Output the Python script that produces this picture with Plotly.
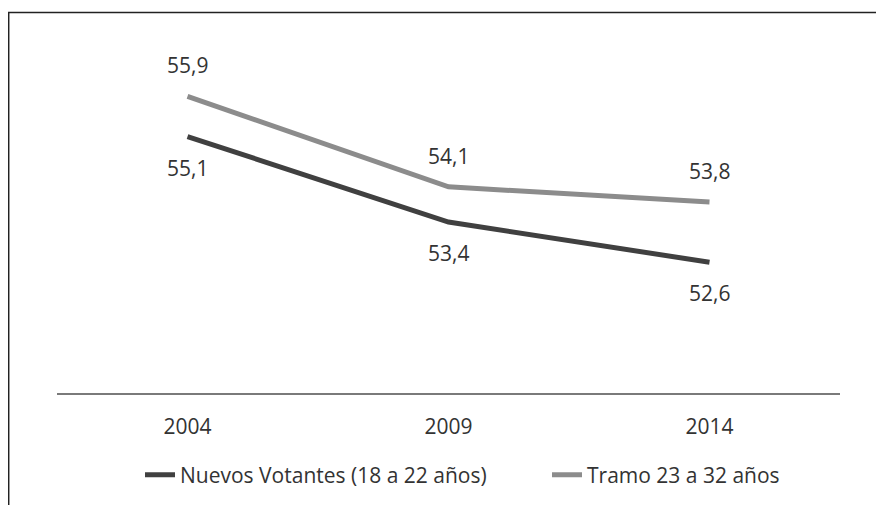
import plotly.graph_objects as go

years = ["2004", "2009", "2014"]
nuevos = [55.1, 53.4, 52.6]
tramo = [55.9, 54.1, 53.8]
name_nuevos = "Nuevos Votantes (18 a 22 años)"
name_tramo = "Tramo 23 a 32 años"

# page is drawn with an 8px body margin
OFF = 8
W, H = 884 - OFF, 505 - OFF
L, R = 57 - OFF, 884 - 840
T, B = 41 - OFF, 505 - 393
pw, ph = W - L - R, H - T - B

def px_x(p):
    return (p - OFF - L) / pw

def px_y(p):
    return (H - B - (p - OFF)) / ph

def cont_y(p):
    return (H - (p - OFF)) / H

FONT = "Open Sans"
TXT = "#333333"
FS = 21

fig = go.Figure()
fig.add_trace(go.Scatter(x=years, y=nuevos, mode="lines", name=name_nuevos,
                         line=dict(color="#404040", width=5), legend="legend"))
fig.add_trace(go.Scatter(x=years, y=tramo, mode="lines", name=name_tramo,
                         line=dict(color="#8c8c8c", width=5), legend="legend2"))

def fmt(v):
    return f"{v:.1f}".replace(".", ",")

ann = []
for i, v in enumerate(nuevos):
    ann.append(dict(x=i, y=v, text=fmt(v), showarrow=False, yshift=-31,
                    font=dict(size=FS, color=TXT, family=FONT)))
for i, v in enumerate(tramo):
    ann.append(dict(x=i, y=v, text=fmt(v), showarrow=False, yshift=31,
                    font=dict(size=FS, color=TXT, family=FONT)))

shapes = [
    dict(type="line", xref="paper", yref="paper", x0=px_x(8), x1=px_x(890),
         y0=px_y(12.5), y1=px_y(12.5), line=dict(color="#222222", width=1.5)),
    dict(type="line", xref="paper", yref="paper", x0=px_x(8.7), x1=px_x(8.7),
         y0=px_y(12.5), y1=px_y(510), line=dict(color="#222222", width=1.5)),
]

leg_common = dict(orientation="h", xanchor="left", yanchor="middle",
                  yref="container", y=cont_y(475),
                  font=dict(size=FS, color=TXT, family=FONT), bgcolor="rgba(0,0,0,0)")

fig.update_layout(
    width=W, height=H,
    margin=dict(l=L, r=R, t=T, b=B),
    paper_bgcolor="white", plot_bgcolor="white",
    font=dict(family=FONT, size=FS, color=TXT),
    showlegend=True,
    legend=dict(x=px_x(140), **leg_common),
    legend2=dict(x=px_x(547), **leg_common),
    xaxis=dict(type="category", range=[-0.5, 2.5], showgrid=False, showline=True,
               linecolor="#7a7a7a", linewidth=2,
               ticks="", ticklabelstandoff=14, tickfont=dict(size=FS, color=TXT),
               zeroline=False),
    yaxis=dict(range=[50, 57], showgrid=False, showticklabels=False, zeroline=False,
               showline=False),
    annotations=ann,
    shapes=shapes,
)

fig.write_html("out.html")
